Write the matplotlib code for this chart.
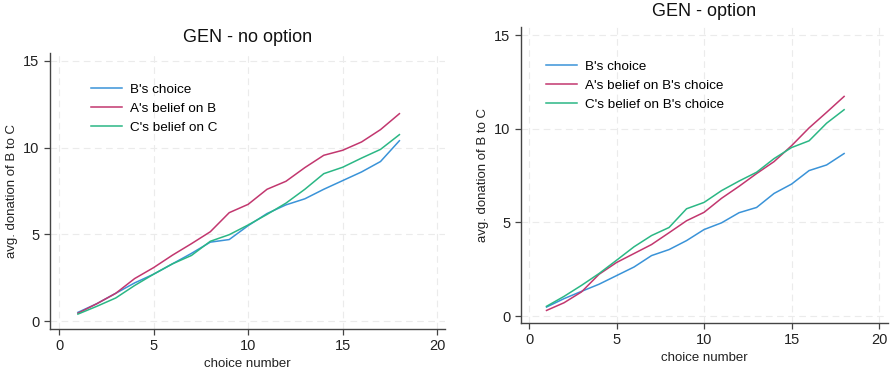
import matplotlib
matplotlib.use("Agg")
import matplotlib.pyplot as plt

plt.rcParams['font.family'] = ['Liberation Sans', 'DejaVu Sans']

choice = list(range(1, 19))

# GEN - no option
noopt_b_choice = [0.5, 1.0, 1.6, 2.2, 2.7, 3.3, 3.9, 4.55, 4.7, 5.5, 6.2, 6.7, 7.05, 7.6, 8.1, 8.6, 9.2, 10.4]
noopt_a_belief = [0.45, 1.0, 1.6, 2.45, 3.08, 3.8, 4.46, 5.15, 6.25, 6.73, 7.6, 8.06, 8.85, 9.56, 9.85, 10.33, 11.04, 11.96]
noopt_c_belief = [0.4, 0.85, 1.33, 2.05, 2.7, 3.3, 3.78, 4.6, 4.98, 5.54, 6.15, 6.8, 7.6, 8.5, 8.87, 9.4, 9.9, 10.75]

# GEN - option
opt_b_choice = [0.48, 0.93, 1.32, 1.7, 2.16, 2.62, 3.23, 3.55, 4.03, 4.62, 4.98, 5.52, 5.8, 6.55, 7.05, 7.77, 8.07, 8.68]
opt_a_belief = [0.3, 0.71, 1.29, 2.23, 2.86, 3.34, 3.82, 4.45, 5.09, 5.54, 6.29, 6.93, 7.61, 8.25, 9.1, 10.05, 10.88, 11.73]
opt_c_belief = [0.52, 1.05, 1.64, 2.27, 2.98, 3.7, 4.3, 4.73, 5.73, 6.07, 6.7, 7.21, 7.68, 8.41, 9.0, 9.36, 10.3, 11.02]

colors = ['#3a93d8', '#c2376f', '#2bb785']

fig = plt.figure(figsize=(8.9, 3.74), dpi=100)
ax1 = fig.add_axes([0.0562, 0.1203, 0.444, 0.738])
ax2 = fig.add_axes([0.5854, 0.1364, 0.4124, 0.791])

panels = [
    (ax1, 'GEN - no option',
     [noopt_b_choice, noopt_a_belief, noopt_c_belief],
     ["B's choice", "A's belief on B", "C's belief on C"],
     (-0.476, 20.42), (-0.46, 15.46), (0.104, 0.89)),
    (ax2, 'GEN - option',
     [opt_b_choice, opt_a_belief, opt_c_belief],
     ["B's choice", "A's belief on B's choice", "C's belief on B's choice"],
     (-0.457, 20.51), (-0.37, 15.43), (0.068, 0.888)),
]

for ax, title, series, labels, xl, yl, lpos in panels:
    for ys, lab, c in zip(series, labels, colors):
        ax.plot(choice, ys, color=c, lw=1.1, label=lab)
    ax.set_xlim(*xl)
    ax.set_ylim(*yl)
    ax.set_xticks([0, 5, 10, 15, 20])
    ax.set_yticks([0, 5, 10, 15])
    ax.grid(True, color='#ebebeb', linestyle=(0, (6, 4)), linewidth=0.8)
    ax.set_axisbelow(True)
    for s in ['top', 'right']:
        ax.spines[s].set_visible(False)
    for s in ['left', 'bottom']:
        ax.spines[s].set_color('#444444')
        ax.spines[s].set_linewidth(1.0)
    ax.tick_params(colors='#444444', labelcolor='#222222', labelsize=10.5, length=4, width=0.9)
    ax.set_title(title, fontsize=13, color='#111111', pad=8)
    ax.set_xlabel('choice number', fontsize=9.5, color='#222222', labelpad=3)
    ax.set_ylabel('avg. donation of B to C', fontsize=9.5, color='#222222', labelpad=4)
    ax.legend(loc='upper left', bbox_to_anchor=lpos, frameon=False, fontsize=9.7,
              borderpad=0, borderaxespad=0, handlelength=2.3, handletextpad=0.6,
              labelspacing=0.5)

fig.savefig('out.png', dpi=100, facecolor='white')
